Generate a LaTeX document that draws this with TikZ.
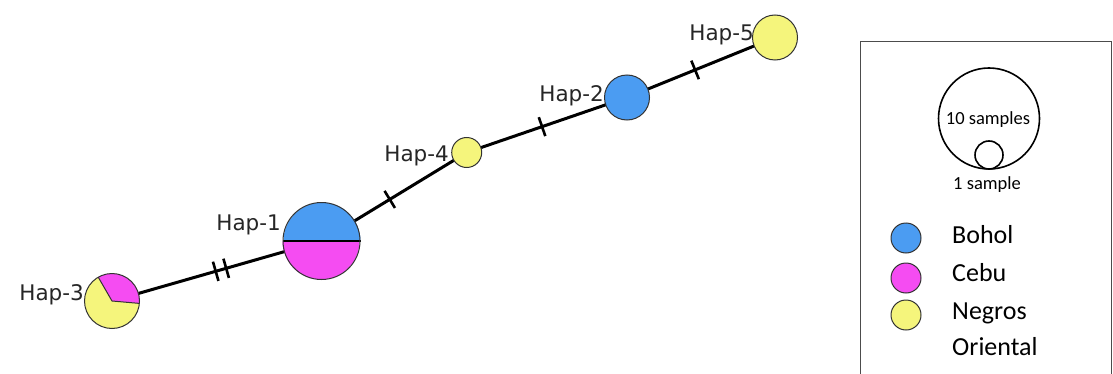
\documentclass[tikz,border=0pt]{standalone}
\usepackage{fontspec}
\setmainfont{Carlito}
\newfontfamily\hapfont{DejaVu Sans}
\usetikzlibrary{backgrounds,calc}
\definecolor{bohol}{HTML}{4B9CF2}
\definecolor{cebu}{HTML}{F54CF2}
\definecolor{negros}{HTML}{F5F57C}
\tikzset{
  hap/.style={circle, inner sep=0pt, draw=black!80, line width=1pt},
  edge/.style={line width=3pt, black},
  tickline/.style={line width=2.6pt, black},
  haplabel/.style={anchor=base east, inner sep=0pt, font=\hapfont\fontsize{21.5}{24}\selectfont, text=black!85},
  legtext/.style={anchor=west, inner sep=0pt, font=\fontsize{26}{30}\selectfont},
  sizetext/.style={inner sep=0pt, font=\fontsize{18.5}{21}\selectfont}
}
\begin{document}
\begin{tikzpicture}[x=1pt,y=1pt]
\useasboundingbox (0,0) rectangle (1113,373);
% haplotype circles
\node[hap, minimum size=77pt] (h1) at (321.5,132) {};
\node[hap, minimum size=55pt] (h3) at (112,72) {};
\node[hap, minimum size=30pt, fill=negros] (h4) at (466.7,220.5) {};
\node[hap, minimum size=45pt, fill=bohol] (h2) at (627,275.5) {};
\node[hap, minimum size=45pt, fill=negros] (h5) at (775,335.5) {};
\begin{scope}[on background layer]
  % edges
  \draw[edge] (h3.center) -- node[coordinate, pos=0.495] (ta) {} node[coordinate, pos=0.545] (tb) {} (h1.center);
  \draw[edge] (h1.center) -- node[coordinate, pos=0.47] (tc) {} (h4.center);
  \draw[edge] (h4.center) -- node[coordinate, pos=0.47] (td) {} (h2.center);
  \draw[edge] (h2.center) -- node[coordinate, pos=0.46] (te) {} (h5.center);
  % mutation ticks
  \draw[tickline] ($(ta)!10pt!90:(h1.center)$) -- ($(ta)!10pt!-90:(h1.center)$);
  \draw[tickline] ($(tb)!10pt!90:(h1.center)$) -- ($(tb)!10pt!-90:(h1.center)$);
  \draw[tickline] ($(tc)!10pt!90:(h4.center)$) -- ($(tc)!10pt!-90:(h4.center)$);
  \draw[tickline] ($(td)!10pt!90:(h2.center)$) -- ($(td)!10pt!-90:(h2.center)$);
  \draw[tickline] ($(te)!10pt!90:(h5.center)$) -- ($(te)!10pt!-90:(h5.center)$);
  % pie fills
  \fill[bohol] (h1.center) -- (h1.east) arc[start angle=0, end angle=180, radius=38.5pt] -- cycle;
  \fill[cebu] (h1.center) -- (h1.west) arc[start angle=180, end angle=360, radius=38.5pt] -- cycle;
  \draw[black, line width=1.5pt] (h1.west) -- (h1.east);
  \fill[negros] (h3.center) circle[radius=27.5pt];
  \fill[cebu] (h3.center) -- ++(-5:27.5pt) arc[start angle=-5, end angle=120, radius=27.5pt] -- cycle;
  \draw[black!80, line width=1pt] (h3.center) -- ++(-5:27.5pt);
  \draw[black!80, line width=1pt] (h3.center) -- ++(120:27.5pt);
\end{scope}
% labels
\node[haplabel] (l1) at (281,143) {Hap-1};
\node[haplabel] (l3) at (84,72.3) {Hap-3};
\node[haplabel] (l4) at (449,211.3) {Hap-4};
\node[haplabel] (l2) at (604,271.5) {Hap-2};
\node[haplabel] (l5) at (754,332.3) {Hap-5};
% legend
\draw[black!70, line width=1pt] (860,-10) rectangle (1111,331);
\node[circle, draw, line width=1.6pt, minimum size=101pt, inner sep=0pt] (big) at (989,254.5) {};
\node[circle, draw, line width=1.6pt, minimum size=28pt, inner sep=0pt] (small) at (989,218) {};
\node[sizetext] (t10) at (988,253) {10 samples};
\node[sizetext] (t1) at (987,188) {1 sample};
\node[hap, minimum size=30pt, fill=bohol] (cb) at (906,135) {};
\node[hap, minimum size=30pt, fill=cebu] (cc) at (906,95) {};
\node[hap, minimum size=30pt, fill=negros] (cn) at (906,58) {};
\node[legtext] (tbo) at (952,138) {Bohol};
\node[legtext] (tce) at (952,100) {Cebu};
\node[legtext] (tne) at (952,60) {Negros};
\node[legtext] (tor) at (952,26) {Oriental};
\end{tikzpicture}
\end{document}
